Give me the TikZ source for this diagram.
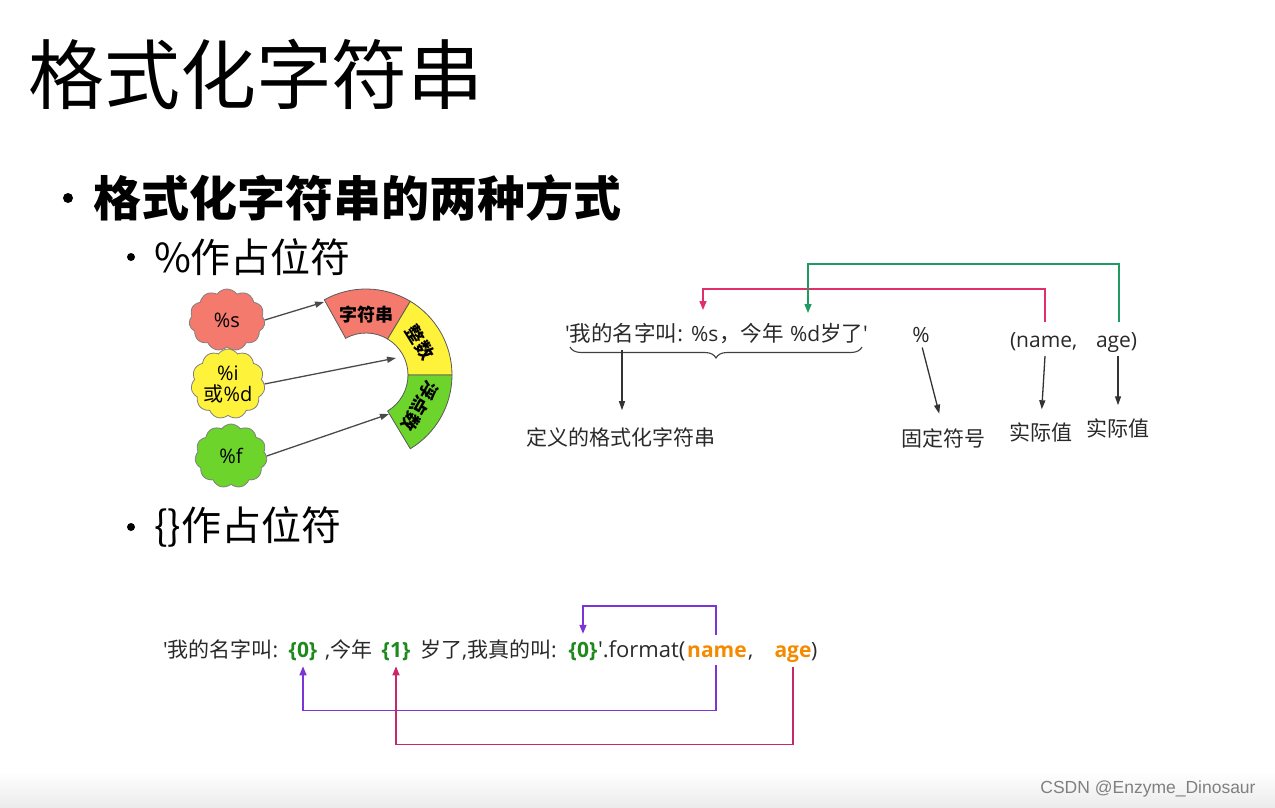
\documentclass[tikz,border=0pt]{standalone}
\usepackage{fontspec}
\setmainfont{Noto Sans CJK SC}[Ligatures=TeXOff]
\newfontfamily\lat{Open Sans}[Ligatures=TeXOff]
\newfontfamily\wmfont{Liberation Sans}
\usetikzlibrary{shapes.symbols,arrows.meta,decorations.pathreplacing,calc}
\definecolor{cred}{HTML}{F47A6E}
\definecolor{cyel}{HTML}{FFF23A}
\definecolor{cgrn}{HTML}{6CD42A}
\definecolor{lred}{HTML}{E0306A}
\definecolor{lgrn}{HTML}{1F9A62}
\definecolor{lpur}{HTML}{7B35D6}
\definecolor{lcrm}{HTML}{C8286A}
\definecolor{tgrn}{HTML}{1E8A1E}
\definecolor{torg}{HTML}{F58A00}
\definecolor{arrgray}{HTML}{4A4A4A}
\definecolor{txtgray}{HTML}{2A2A2A}
\begin{document}
\begin{tikzpicture}[x=1pt,y=-1pt,
  txt/.style={inner sep=0pt, outer sep=0pt},
  t21/.style={txt, text=txtgray, font=\fontsize{21}{25}\selectfont},
  mid/.style={txt, text=txtgray, font=\fontsize{21.5}{25}\selectfont, anchor=base west},
  midl/.style={mid, font=\lat\fontsize{21}{25}\selectfont},
  bot/.style={txt, text=txtgray, font=\fontsize{21}{25}\selectfont, anchor=base west},
  botl/.style={bot, font=\lat\fontsize{21}{25}\selectfont},
  ph/.style={txt, text=tgrn, font=\lat\bfseries\fontsize{21}{25}\selectfont, anchor=base},
  arg/.style={txt, text=torg, font=\lat\bfseries\fontsize{21}{25}\selectfont, anchor=base},
  cloudbox/.style={cloud, cloud puffs=11, cloud puff arc=110, cloud ignores aspect,
     draw=black!50, line width=0.8pt, inner sep=0pt, font=\fontsize{20}{22}\selectfont, align=center},
  segbox/.style={draw=black!65, line width=0.8pt},
  segtxt/.style={txt, font=\bfseries\fontsize{18}{20}\selectfont},
  grayarr/.style={draw=arrgray, line width=1.3pt, -{Triangle[length=9pt,width=6pt]}},
  blkarr/.style={draw=black!80, line width=1.3pt, -{Triangle[length=9pt,width=6pt]}},
  link/.style={line width=1.4pt, -{Triangle[length=9pt,width=7pt]}},
  bullet/.style={circle, fill=black, inner sep=0pt}
]
\useasboundingbox (0,0) rectangle (1275,808);
\fill[white] (0,0) rectangle (1275,808);
\shade[top color=white, bottom color=black!8] (0,772) rectangle (1275,808);

% title
\node[txt, anchor=west, font=\fontsize{76}{80}\selectfont] (title) at (28,74) {格式化字符串};

% bullets
\node[bullet, minimum size=10pt] (b1) at (68,198) {};
\node[txt, anchor=west, font=\bfseries\fontsize{48}{52}\selectfont] (h1) at (93,198) {格式化字符串的两种方式};
\node[bullet, minimum size=8pt] (b2) at (131,257) {};
\node[txt, anchor=west, font=\fontsize{40}{44}\selectfont] (s1) at (154,257) {\%作占位符};
\node[bullet, minimum size=8pt] (b3) at (131,527) {};
\node[txt, anchor=west, font=\fontsize{40}{44}\selectfont] (s2) at (154,527) {\{\}作占位符};

% clouds
\node[cloudbox, fill=cred, minimum width=76pt, minimum height=62pt] (cs) at (227,320) {{\lat\%s}};
\node[cloudbox, fill=cyel, minimum width=72pt, minimum height=70pt] (ci) at (228,384) {{\lat\%i}\\[-1pt]或{\lat\%d}};
\node[cloudbox, fill=cgrn, minimum width=72pt, minimum height=64pt] (cf) at (231,456) {{\lat\%f}};

% arc segments
\coordinate (ac) at (366,375);
\draw[segbox, fill=cred] ($(ac)+(-119:86)$) arc[start angle=-119, end angle=-59, radius=86]
   -- ($(ac)+(-59:42)$) arc[start angle=-59, end angle=-119, radius=42] -- cycle;
\draw[segbox, fill=cyel] ($(ac)+(-59:86)$) arc[start angle=-59, end angle=0, radius=86]
   -- ($(ac)+(0:42)$) arc[start angle=0, end angle=-59, radius=42] -- cycle;
\draw[segbox, fill=cgrn] ($(ac)+(0:86)$) arc[start angle=0, end angle=59, radius=86]
   -- ($(ac)+(59:42)$) arc[start angle=59, end angle=0, radius=42] -- cycle;
\node[segtxt] (sg1) at ($(ac)+(-90:60)$) {字符串};
\node[segtxt, rotate=-58] (sg2) at ($(ac)+(-31:63)$) {整数};
\node[segtxt, rotate=-120] (sg3) at ($(ac)+(30:62)$) {浮点数};

\coordinate (e1) at (324,302);
\coordinate (e2) at (396,358);
\coordinate (e3) at (389,414);
\draw[grayarr] (cs.east) -- (e1);
\draw[grayarr] (ci.east) -- (e2);
\draw[grayarr] (cf.east) -- (e3);

% middle string
\node[mid] (m1) at (565,341) {{\lat'}我的名字叫{\lat:}};
\node[midl] (m2) at (691,341) {\%s};
\node[mid] (m3) at (719,341) {，今年};
\node[midl] (m4) at (790,341) {\%d};
\node[mid] (m5) at (820,341) {岁了{\lat'}};
\coordinate (brL) at (570,347);
\coordinate (brR) at (862,347);
\draw[black!75, line width=1.1pt, decorate, decoration={brace, mirror, amplitude=11pt}] (brL) -- (brR);
\coordinate (brA) at (622,350);
\node[t21] (lab1) at (621,437) {定义的格式化字符串};
\draw[blkarr, shorten >=17pt] (brA) -- (lab1.north -| brA);

\node[t21, font=\lat\fontsize{21}{25}\selectfont] (pct) at (921,335) {\%};
\node[t21] (lab2) at (943,438) {固定符号};
\draw[blkarr, shorten <=5pt, shorten >=15pt] (pct.south) -- (lab2.north);

\node[midl] (n1) at (1010,347) {(name,};
\node[midl] (n3) at (1096,347) {age)};
\coordinate (na) at (1045,322);
\coordinate (nb) at (1119,322);
\coordinate (na2) at (1045,356);
\coordinate (nb2) at (1118,356);
\coordinate (ta) at (703,310);
\coordinate (tb) at (808,313);
\node[t21] (lab3) at (1041,432) {实际值};
\node[t21] (lab4) at (1118,428) {实际值};
\draw[blkarr, shorten >=13pt] (na2) -- (lab3.north);
\draw[blkarr, shorten >=13pt] (nb2) -- (lab4.north);
\draw[link, draw=lred] (na) -- ++(0,-33) -| (ta);
\draw[link, draw=lgrn] (nb) -- ++(0,-58) -| (tb);

% bottom string
\node[bot] (p1) at (163,657) {{\lat'}我的名字叫{\lat:}};
\node[ph] (p2) at (303,657) {\{0\}};
\node[bot] (p3) at (325,657) {{\lat,}今年};
\node[ph] (p4) at (396,657) {\{1\}};
\node[bot] (p5) at (420,657) {岁了{\lat,}我真的叫{\lat:}};
\node[ph] (p6) at (583,657) {\{0\}};
\node[botl, font=\lat\fontsize{22}{25}\selectfont] (p7) at (598,657) {'.format(};
\node[arg] (p8) at (717,657) {name};
\node[botl] (p9) at (748,657) {,};
\node[arg] (p10) at (793,657) {age};
\node[botl] (p11) at (811,657) {)};

\coordinate (q1) at (716,635);
\coordinate (q2) at (716,665);
\coordinate (q3) at (793,667);
\draw[link, draw=lpur] (q1) -- ++(0,-29) -| ($(p6.north)+(0,-8)$);
\draw[link, draw=lpur] (q2) |- ($(p2.south)+(0,50)$) -- ($(p2.south)+(0,6)$);
\draw[link, draw=lcrm] (q3) |- ($(p4.south)+(0,84)$) -- ($(p4.south)+(0,6)$);

% watermark
\node[txt, text=black!50, font=\wmfont\fontsize{17.5}{20}\selectfont] (wm) at (1148,789) {CSDN @Enzyme\_Dinosaur};
\end{tikzpicture}
\end{document}
